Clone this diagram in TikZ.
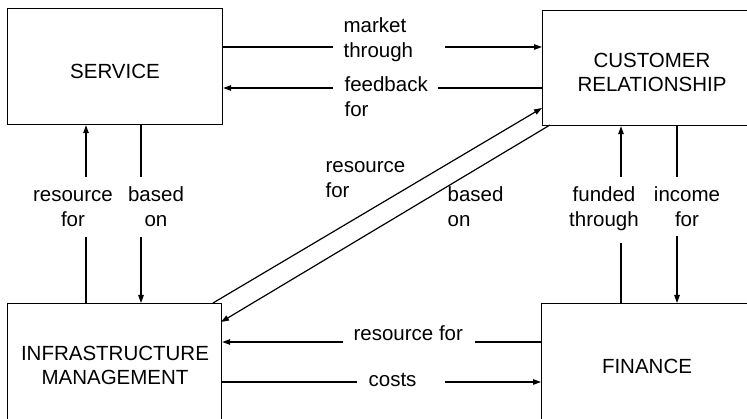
\documentclass[tikz,border=0pt]{standalone}
\usepackage{fontspec}
\setmainfont{Liberation Sans}
\usetikzlibrary{arrows.meta}
\newcommand\twol[2]{\begin{tabular}[t]{@{}l@{}}#1\\#2\end{tabular}}
\newcommand\twoc[2]{\begin{tabular}[t]{@{}c@{}}#1\\#2\end{tabular}}
\begin{document}
\begin{tikzpicture}[x=1pt,y=-1pt,line width=1.2pt,
  box/.style={draw,rectangle,anchor=north west,inner sep=0pt,line width=1.2pt},
  lbl/.style={inner sep=0pt,font=\fontsize{20.5}{25}\selectfont},
  btxt/.style={inner sep=0pt,font=\fontsize{20.5}{24}\selectfont},
  arr/.style={-{Triangle[length=8pt,width=5.5pt]}}]
\useasboundingbox (0,0) rectangle (747,419);
\clip (0,0) rectangle (747,419);
% boxes
\node[box,minimum width=215pt,minimum height=116pt] (svc) at (7,8) {};
\node[box,minimum width=220pt,minimum height=115pt] (cust) at (542,10) {};
\node[box,minimum width=214pt,minimum height=124pt] (infra) at (7,303) {};
\node[box,minimum width=212pt,minimum height=127pt] (fin) at (541,303) {};
% box texts
\node[btxt,anchor=base] (tsvc) at (115,79) {SERVICE};
\node[btxt,anchor=base] (tcust) at (652,68) {\twoc{CUSTOMER}{RELATIONSHIP}};
\node[btxt,anchor=base] (tinf) at (115,361) {\twoc{INFRASTRUCTURE}{MANAGEMENT}};
\node[btxt,anchor=base] (tfin) at (647,374) {FINANCE};
% labels
\node[lbl,anchor=base west] (lmt) at (343,33) {\twol{market}{through}};
\node[lbl,anchor=base west] (lfb) at (344,92) {\twol{feedback}{for}};
\node[lbl,anchor=base west] (lrf) at (325,173) {\twol{resource}{for}};
\node[lbl,anchor=base west] (lbo) at (447,202) {\twol{based}{on}};
\node[lbl,anchor=base] (lrf2) at (73,202) {\twoc{resource}{for}};
\node[lbl,anchor=base] (lbo2) at (156,202) {\twoc{based}{on}};
\node[lbl,anchor=base] (lft) at (604,202) {\twoc{funded}{through}};
\node[lbl,anchor=base] (lif) at (687,202) {\twoc{income}{for}};
\node[lbl,anchor=base west] (lrs) at (353,341) {resource for};
\node[lbl,anchor=base west] (lco) at (368,387) {costs};
% market through
\coordinate (m2) at (333,47); \coordinate (m3) at (445,47);
\draw (svc.east |- m2) -- (m2);
\draw[arr] (m3) -- (cust.west |- m3);
% feedback for
\coordinate (f1) at (333,88); \coordinate (f2) at (438,88);
\draw[arr] (f1) -- (svc.east |- f1);
\draw (f2) -- (cust.west |- f2);
% diagonals
\coordinate (d1) at (213,303); \coordinate (d2) at (542,108);
\draw[arr] (d1) -- (d2);
\coordinate (d3) at (550,125); \coordinate (d4) at (221,322);
\draw[arr] (d3) -- (d4);
% verticals left
\coordinate (v1a) at (86,237); \coordinate (v1b) at (86,177);
\draw (infra.north -| v1a) -- (v1a);
\draw[arr] (v1b) -- (svc.south -| v1b);
\coordinate (v2a) at (141,177); \coordinate (v2b) at (141,237);
\draw (svc.south -| v2a) -- (v2a);
\draw[arr] (v2b) -- (infra.north -| v2b);
% verticals right
\coordinate (v3a) at (621,243); \coordinate (v3b) at (621,177);
\draw (fin.north -| v3a) -- (v3a);
\draw[arr] (v3b) -- (cust.south -| v3b);
\coordinate (v4a) at (677,177); \coordinate (v4b) at (677,236);
\draw (cust.south -| v4a) -- (v4a);
\draw[arr] (v4b) -- (fin.north -| v4b);
% bottom
\coordinate (r1) at (343,342); \coordinate (r2) at (475,342);
\draw[arr] (r1) -- (infra.east |- r1);
\draw (r2) -- (fin.west |- r2);
\coordinate (c1) at (357,382); \coordinate (c2) at (445,382);
\draw (infra.east |- c1) -- (c1);
\draw[arr] (c2) -- (fin.west |- c2);
\end{tikzpicture}
\end{document}
